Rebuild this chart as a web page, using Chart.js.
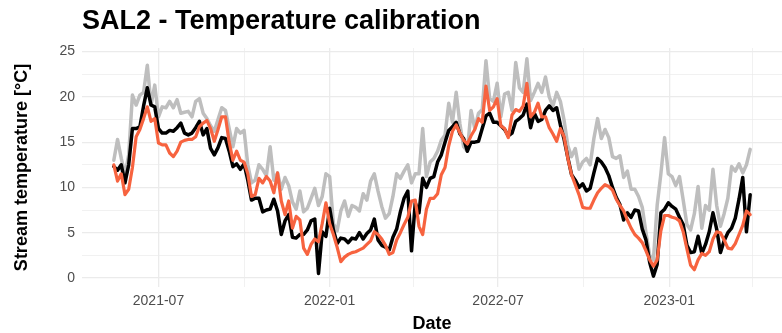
<!DOCTYPE html>
<html>
<head>
<meta charset="utf-8">
<title>SAL2 - Temperature calibration</title>
<script src="https://cdn.jsdelivr.net/npm/chart.js@4.4.1/dist/chart.umd.min.js"></script>
<style>
  html, body { margin: 0; padding: 0; background: #ffffff; }
  #wrap { width: 782px; height: 333px; }
</style>
</head>
<body>
<div id="wrap"><canvas id="tempChart" width="782" height="333"></canvas></div>
<script>
// Sampling dates (every 4 days)
const dates = [
  '2021-05-14','2021-05-18','2021-05-22','2021-05-26','2021-05-30','2021-06-03','2021-06-07','2021-06-11',
  '2021-06-15','2021-06-19','2021-06-23','2021-06-27','2021-07-01','2021-07-05','2021-07-09','2021-07-13',
  '2021-07-17','2021-07-21','2021-07-25','2021-07-29','2021-08-02','2021-08-06','2021-08-10','2021-08-14',
  '2021-08-18','2021-08-22','2021-08-26','2021-08-30','2021-09-03','2021-09-07','2021-09-11','2021-09-15',
  '2021-09-19','2021-09-23','2021-09-27','2021-10-01','2021-10-05','2021-10-09','2021-10-13','2021-10-17',
  '2021-10-21','2021-10-25','2021-10-29','2021-11-02','2021-11-06','2021-11-10','2021-11-14','2021-11-18',
  '2021-11-22','2021-11-26','2021-11-30','2021-12-04','2021-12-08','2021-12-12','2021-12-16','2021-12-20',
  '2021-12-24','2021-12-28','2022-01-01','2022-01-05','2022-01-09','2022-01-13','2022-01-17','2022-01-21',
  '2022-01-25','2022-01-29','2022-02-02','2022-02-06','2022-02-10','2022-02-14','2022-02-18','2022-02-22',
  '2022-02-26','2022-03-02','2022-03-06','2022-03-10','2022-03-14','2022-03-18','2022-03-22','2022-03-26',
  '2022-03-30','2022-04-03','2022-04-07','2022-04-11','2022-04-15','2022-04-19','2022-04-23','2022-04-27',
  '2022-05-01','2022-05-05','2022-05-09','2022-05-13','2022-05-17','2022-05-21','2022-05-25','2022-05-29',
  '2022-06-02','2022-06-06','2022-06-10','2022-06-14','2022-06-18','2022-06-22','2022-06-26','2022-06-30',
  '2022-07-04','2022-07-08','2022-07-12','2022-07-16','2022-07-20','2022-07-24','2022-07-28','2022-08-01',
  '2022-08-05','2022-08-09','2022-08-13','2022-08-17','2022-08-21','2022-08-25','2022-08-29','2022-09-02',
  '2022-09-06','2022-09-10','2022-09-14','2022-09-18','2022-09-22','2022-09-26','2022-09-30','2022-10-04',
  '2022-10-08','2022-10-12','2022-10-16','2022-10-20','2022-10-24','2022-10-28','2022-11-01','2022-11-05',
  '2022-11-09','2022-11-13','2022-11-17','2022-11-21','2022-11-25','2022-11-29','2022-12-03','2022-12-07',
  '2022-12-11','2022-12-15','2022-12-19','2022-12-23','2022-12-27','2022-12-31','2023-01-04','2023-01-08',
  '2023-01-12','2023-01-16','2023-01-20','2023-01-24','2023-01-28','2023-02-01','2023-02-05','2023-02-09',
  '2023-02-13','2023-02-17','2023-02-21','2023-02-25','2023-03-01','2023-03-05','2023-03-09','2023-03-13',
  '2023-03-17','2023-03-21','2023-03-25','2023-03-29'
];

// grey line
const greyLine = [
  13.0,15.3,13.2,11.4,13.6,20.2,19.1,20.2,20.5,23.5,19.1,21.3,17.8,18.9,18.8,19.5,
  18.8,19.7,18.2,18.3,18.4,17.8,19.5,19.8,18.2,17.6,16.8,16.2,17.5,18.8,18.5,16.5,
  14.5,16.5,16.0,16.3,12.5,10.5,10.8,12.5,12.0,11.3,14.5,10.8,11.6,9.8,11.1,10.2,
  8.4,7.6,9.6,7.3,7.7,8.8,9.9,8.0,9.0,11.5,11.2,6.0,5.2,7.4,8.5,6.8,
  8.0,7.8,7.4,9.3,8.6,10.7,11.5,9.6,7.9,6.6,7.1,9.0,11.5,11.0,11.8,12.5,
  10.5,11.5,11.5,16.5,11.2,12.8,13.2,14.0,15.2,15.8,19.3,17.2,20.5,17.0,14.5,14.0,
  18.5,16.5,18.2,18.6,24.0,19.8,19.5,21.5,17.8,20.3,20.5,18.5,23.8,21.0,20.5,24.2,
  19.6,20.5,21.5,20.5,22.2,20.0,19.0,20.5,19.5,17.4,14.6,13.4,14.3,12.0,12.8,13.2,
  12.5,15.4,17.6,15.4,16.4,15.5,13.4,13.2,13.5,11.1,11.8,9.8,9.8,9.0,7.8,5.0,
  2.5,2.0,8.0,11.5,15.5,11.5,11.2,10.2,11.2,8.6,5.9,5.3,7.1,10.1,5.5,8.0,
  7.5,12.0,8.0,5.7,7.1,8.8,12.3,11.8,12.6,11.6,12.5,14.2
];

// black line
const blackLine = [
  12.3,11.9,12.5,10.5,12.5,16.5,16.5,16.7,19.0,21.0,19.1,18.9,16.5,16.0,16.0,16.3,
  16.2,16.6,17.1,16.0,15.8,16.0,16.6,17.3,15.8,16.5,14.3,13.6,14.4,15.5,15.4,14.0,
  12.3,12.6,12.0,12.6,10.8,8.6,8.8,8.8,7.3,7.5,7.6,8.7,7.4,4.8,6.3,7.0,
  4.5,4.4,4.8,4.8,5.3,6.3,6.5,0.5,5.1,4.6,7.7,5.3,3.8,4.4,4.3,3.9,
  4.4,4.3,5.0,4.3,4.9,5.3,6.5,4.2,3.6,3.4,3.1,4.5,5.4,7.3,8.8,9.6,
  3.0,8.3,7.2,11.0,10.0,11.0,11.2,12.8,13.6,15.0,16.3,16.7,17.2,15.9,15.4,14.0,
  15.0,15.0,15.1,16.5,17.9,18.2,17.2,17.2,16.8,16.4,15.7,16.0,17.3,17.6,18.0,19.2,
  16.6,18.2,17.3,17.5,18.5,19.0,18.5,18.8,16.9,15.3,13.3,11.4,10.8,10.0,10.4,9.6,
  9.9,11.6,13.2,12.8,12.2,11.3,10.0,8.9,8.1,6.4,7.2,6.7,7.5,7.4,5.4,4.2,
  1.7,0.2,1.5,7.2,7.6,8.3,7.9,7.6,6.7,5.9,3.6,2.8,2.9,4.6,2.7,3.7,
  5.1,7.2,5.4,2.8,4.1,5.0,5.5,6.6,8.7,11.1,5.1,9.2
];

// orange line
const orangeLine = [
  12.5,10.7,11.5,9.2,9.8,12.2,15.6,16.4,17.6,18.9,17.3,17.6,14.9,14.7,14.7,13.8,
  13.4,14.0,15.0,15.2,15.3,15.3,15.6,16.7,17.1,17.4,16.5,15.1,16.4,17.8,17.8,15.0,
  13.0,14.0,13.0,12.8,11.5,9.0,9.2,11.0,10.5,11.2,10.7,9.4,11.6,8.5,7.0,8.5,
  5.5,6.8,6.4,3.3,2.6,3.7,4.3,4.0,6.0,8.3,6.0,4.8,3.4,1.8,2.3,2.6,
  2.8,2.9,3.1,3.3,3.7,4.1,5.1,4.8,4.3,3.6,2.6,2.8,4.2,5.0,5.9,6.7,
  8.5,8.6,5.7,4.8,7.6,8.8,8.8,9.3,11.4,12.2,14.6,16.2,16.9,16.0,15.2,14.8,
  15.7,16.4,17.6,17.2,21.2,18.5,18.9,19.8,16.8,16.5,15.5,18.0,18.6,18.4,19.0,21.5,
  17.8,18.3,19.3,17.8,17.8,16.6,15.9,15.1,16.5,15.6,13.2,11.4,10.3,9.2,7.8,7.7,
  7.7,8.6,9.4,9.9,10.3,10.1,9.7,8.7,8.0,7.4,6.4,5.5,4.8,4.4,3.9,3.0,
  2.0,1.3,2.0,5.2,6.9,6.9,6.7,6.6,6.3,5.1,3.2,1.4,0.9,2.0,2.7,2.5,
  2.9,4.3,5.1,5.0,4.2,3.3,3.2,3.8,4.8,5.8,7.4,7.0
];

// axis breaks
const xMajorBreaks = ['2021-07-01', '2022-01-01', '2022-07-01', '2023-01-01'];
const xTickLabels = ['2021-07', '2022-01', '2022-07', '2023-01'];
const xMinorBreaks = ['2021-10-01', '2022-04-01', '2022-10-01', '2023-04-01'];
const yMajorBreaks = [0, 5, 10, 15, 20, 25];
const yMinorBreaks = [2.5, 7.5, 12.5, 17.5, 22.5];

const toDay = s => Date.parse(s) / 86400000;
const xs = dates.map(toDay);
const toPoints = arr => arr.map((v, i) => ({ x: xs[i], y: v }));

// ggplot-like 5% expansion
const expand = (lo, hi) => { const p = (hi - lo) * 0.05; return [lo - p, hi + p]; };
const allY = greyLine.concat(blackLine, orangeLine);
const [xMin, xMax] = expand(Math.min(...xs), Math.max(...xs));
const [yMin, yMax] = expand(Math.min(...allY), Math.max(...allY));

const xLabelMap = {};
xMajorBreaks.forEach((d, i) => { xLabelMap[toDay(d)] = xTickLabels[i]; });
const xBreakDays = xMajorBreaks.concat(xMinorBreaks).map(toDay)
  .filter(v => v >= xMin && v <= xMax).sort((a, b) => a - b);
const yBreaks = yMajorBreaks.concat(yMinorBreaks).sort((a, b) => a - b);

const gridColor = '#ebebeb';
const tickFont = { family: 'Liberation Sans, Arial, sans-serif', size: 14 };
const titleFont = { family: 'Liberation Sans, Arial, sans-serif', size: 18, weight: 'bold' };

new Chart(document.getElementById('tempChart'), {
  type: 'line',
  data: {
    datasets: [
      { data: toPoints(greyLine), borderColor: '#bebebe', borderWidth: 3.5, order: 3 },
      { data: toPoints(blackLine), borderColor: '#000000', borderWidth: 3.5, order: 2 },
      { data: toPoints(orangeLine), borderColor: '#f7633f', borderWidth: 3.2, order: 1 }
    ]
  },
  options: {
    responsive: false,
    animation: false,
    layout: { padding: 0 },
    elements: {
      point: { radius: 0 },
      line: { tension: 0, borderJoinStyle: 'round', borderCapStyle: 'round' }
    },
    plugins: {
      legend: { display: false },
      tooltip: { enabled: false },
      title: {
        display: true,
        text: 'SAL2 - Temperature calibration',
        align: 'start',
        fullSize: false,
        color: '#000000',
        font: { family: 'Liberation Sans, Arial, sans-serif', size: 27, weight: 'bold' },
        padding: { top: 5, bottom: 10.6 }
      }
    },
    scales: {
      x: {
        type: 'linear',
        min: xMin,
        max: xMax,
        border: { display: false },
        grid: {
          drawTicks: false,
          color: gridColor,
          lineWidth: ctx => (ctx.tick && xLabelMap[ctx.tick.value]) ? 1.3 : 0.7
        },
        afterBuildTicks: scale => { scale.ticks = xBreakDays.map(v => ({ value: v })); },
        afterFit: scale => { scale.height = 46; },
        ticks: {
          autoSkip: false,
          maxRotation: 0,
          padding: 6,
          color: '#4d4d4d',
          font: tickFont,
          callback: v => xLabelMap[v] || ''
        },
        title: { display: true, text: 'Date', color: '#000000', font: titleFont, padding: { top: 0, bottom: -2 } }
      },
      y: {
        min: yMin,
        max: yMax,
        border: { display: false },
        grid: {
          drawTicks: false,
          color: gridColor,
          lineWidth: ctx => (ctx.tick && yMajorBreaks.includes(ctx.tick.value)) ? 1.3 : 0.7
        },
        afterBuildTicks: scale => { scale.ticks = yBreaks.map(v => ({ value: v })); },
        afterFit: scale => { scale.width = 82; },
        ticks: {
          padding: 7,
          color: '#4d4d4d',
          font: tickFont,
          callback: v => yMajorBreaks.includes(v) ? String(v) : ''
        },
        title: { display: true, text: 'Stream temperature [°C]', color: '#000000', font: titleFont, padding: { top: 11, bottom: 0 } }
      }
    }
  }
});
</script>
</body>
</html>
